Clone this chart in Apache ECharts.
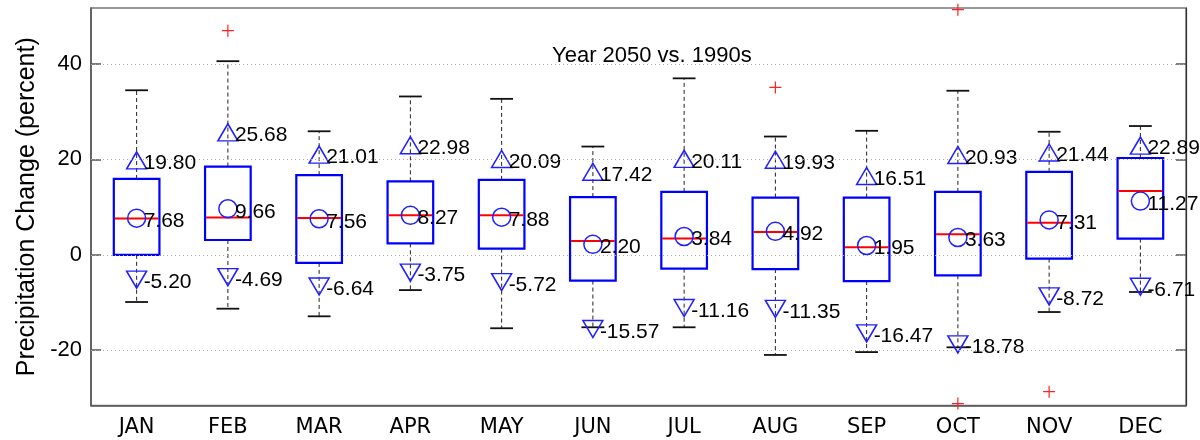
<!DOCTYPE html>
<html>
<head>
<meta charset="utf-8">
<script src="https://cdn.jsdelivr.net/npm/echarts@6/dist/echarts.min.js"></script>
<style>
html,body{margin:0;padding:0;background:#fff;}
#chart{width:1200px;height:440px;}
</style>
</head>
<body>
<div id="chart"></div>
<script>
// ---- data ----
const months = ['JAN','FEB','MAR','APR','MAY','JUN','JUL','AUG','SEP','OCT','NOV','DEC'];
const whiskerHigh = [34.5, 40.6, 25.9, 33.2, 32.7, 22.7, 37.0, 24.8, 26.0, 34.4, 25.8, 27.0];
const q3 =          [15.9, 18.5, 16.7, 15.4, 15.7, 12.1, 13.2, 12.0, 12.0, 13.2, 17.4, 20.3];
const medians =     [7.6, 7.8, 7.7, 8.3, 8.3, 2.9, 3.4, 4.8, 1.6, 4.3, 6.7, 13.4];
const q1 =          [0.0, 3.1, -1.7, 2.4, 1.3, -5.4, -2.9, -3.0, -5.5, -4.3, -0.8, 3.4];
const whiskerLow =  [-9.9, -11.3, -12.9, -7.4, -15.4, -15.2, -15.2, -21.0, -20.4, -19.4, -12.0, -7.8];
const means =       [7.68, 9.66, 7.56, 8.27, 7.88, 2.20, 3.84, 4.92, 1.95, 3.63, 7.31, 11.27];
const upperMarks =  [19.80, 25.68, 21.01, 22.98, 20.09, 17.42, 20.11, 19.93, 16.51, 20.93, 21.44, 22.89];
const lowerMarks =  [-5.20, -4.69, -6.64, -3.75, -5.72, -15.57, -11.16, -11.35, -16.47, -18.78, -8.72, -6.71];
const outlierMonth = ['FEB', 'AUG', 'OCT', 'OCT', 'NOV'];
const outlierValue = [47.0, 35.1, 51.4, -31.2, -28.7];
const yTicks = [-20, 0, 20, 40];
const yMin = -31.6, yMax = 51.75;
const title = 'Year 2050 vs. 1990s';
const yName = 'Precipitation Change (percent)';

// ---- build ----
const boxData = months.map((m, i) => [i, whiskerLow[i], q1[i], medians[i], q3[i], whiskerHigh[i]]);
const outlierData = outlierMonth.map((m, i) => [months.indexOf(m), outlierValue[i]]);

function renderBox(params, api) {
  const x = api.value(0);
  const lowP = api.coord([x, api.value(1)]);
  const q1P = api.coord([x, api.value(2)]);
  const medP = api.coord([x, api.value(3)]);
  const q3P = api.coord([x, api.value(4)]);
  const highP = api.coord([x, api.value(5)]);
  const band = api.size([1, 0])[0];
  const bw = band * 0.5, cw = band * 0.25;
  const cx = lowP[0];
  const dash = {stroke: '#222', lineWidth: 1, lineDash: [4, 3]};
  const cap = {stroke: '#111', lineWidth: 1.8};
  return {
    type: 'group',
    children: [
      {type: 'line', shape: {x1: cx, y1: q3P[1], x2: cx, y2: highP[1]}, style: dash},
      {type: 'line', shape: {x1: cx, y1: q1P[1], x2: cx, y2: lowP[1]}, style: dash},
      {type: 'line', shape: {x1: cx - cw / 2, y1: highP[1], x2: cx + cw / 2, y2: highP[1]}, style: cap},
      {type: 'line', shape: {x1: cx - cw / 2, y1: lowP[1], x2: cx + cw / 2, y2: lowP[1]}, style: cap},
      {type: 'rect', shape: {x: cx - bw / 2, y: q3P[1], width: bw, height: q1P[1] - q3P[1]},
        style: {fill: 'none', stroke: '#0000ff', lineWidth: 2.2}},
      {type: 'line', shape: {x1: cx - bw / 2 + 1, y1: medP[1], x2: cx + bw / 2 - 1, y2: medP[1]},
        style: {stroke: '#ff0000', lineWidth: 2}}
    ]
  };
}

const labelStyle = {
  show: true,
  position: 'inside',
  align: 'left',
  verticalAlign: 'middle',
  offset: [7, 3],
  color: '#000',
  fontFamily: 'Liberation Sans',
  fontSize: 21,
  formatter: p => p.value[1].toFixed(2)
};
const markerStyle = {color: 'rgba(0,0,0,0)', borderColor: '#2020ff', borderWidth: 1.5, opacity: 1};

const chart = echarts.init(document.getElementById('chart'), null, {renderer: 'canvas'});
chart.setOption({
  animation: false,
  backgroundColor: '#fff',
  title: {
    text: title,
    left: 547, top: 40,
    textStyle: {fontFamily: 'Liberation Sans', fontSize: 22, fontWeight: 'normal', color: '#000'}
  },
  grid: {left: 91, right: 14, top: 8, bottom: 34.5, show: true, borderColor: '#777', borderWidth: 1.5, containLabel: false},
  xAxis: {
    type: 'category',
    data: months,
    boundaryGap: true,
    axisLine: {onZero: false, lineStyle: {color: '#555', width: 1.5}},
    axisTick: {show: false},
    splitLine: {show: false},
    axisLabel: {fontFamily: 'DejaVu Sans', fontSize: 21, color: '#000', margin: 12}
  },
  yAxis: [{
    type: 'value',
    min: yMin, max: yMax,
    name: yName,
    nameLocation: 'middle',
    nameGap: 50,
    nameTextStyle: {fontFamily: 'Liberation Sans', fontSize: 25, color: '#000'},
    axisLine: {show: true, onZero: false, lineStyle: {color: '#555', width: 1.5}},
    axisTick: {show: true, inside: true, length: 10, customValues: yTicks, lineStyle: {color: '#555', width: 1.5}},
    axisLabel: {customValues: yTicks, fontFamily: 'Liberation Sans', fontSize: 22, color: '#000', margin: 9},
    splitLine: {show: false}
  }, {
    type: 'value',
    position: 'right',
    min: yMin, max: yMax,
    axisLine: {show: true, onZero: false, lineStyle: {color: '#333', width: 1.2}},
    axisTick: {show: true, inside: true, length: 10, customValues: yTicks, lineStyle: {color: '#555', width: 1.5}},
    axisLabel: {show: false},
    splitLine: {show: false}
  }],
  series: [
    {
      type: 'line', data: [], silent: true, z: 1,
      markLine: {
        silent: true, symbol: 'none', animation: false,
        label: {show: false},
        lineStyle: {color: '#aaa', width: 1, type: [1, 3]},
        data: yTicks.map(v => ({yAxis: v}))
      }
    },
    {
      type: 'custom', renderItem: renderBox, data: boxData, z: 2,
      encode: {x: 0, y: [1, 2, 3, 4, 5]}
    },
    {
      type: 'scatter', z: 3,
      data: means.map((v, i) => [i, v]),
      symbol: 'circle', symbolSize: 18,
      itemStyle: markerStyle,
      label: labelStyle
    },
    {
      type: 'scatter', z: 3,
      data: upperMarks.map((v, i) => [i, v]),
      symbol: 'triangle', symbolSize: [20, 17],
      itemStyle: markerStyle,
      label: labelStyle
    },
    {
      type: 'scatter', z: 3,
      data: lowerMarks.map((v, i) => [i, v]),
      symbol: 'triangle', symbolSize: [20, 17], symbolRotate: 180,
      itemStyle: markerStyle,
      label: labelStyle
    },
    {
      type: 'scatter', z: 3,
      data: outlierData,
      symbol: 'path://M0,5L10,5M5,0L5,10', symbolSize: 12,
      itemStyle: {color: 'none', borderColor: '#ff2020', borderWidth: 1.2, opacity: 1}
    }
  ]
});
</script>
</body>
</html>
